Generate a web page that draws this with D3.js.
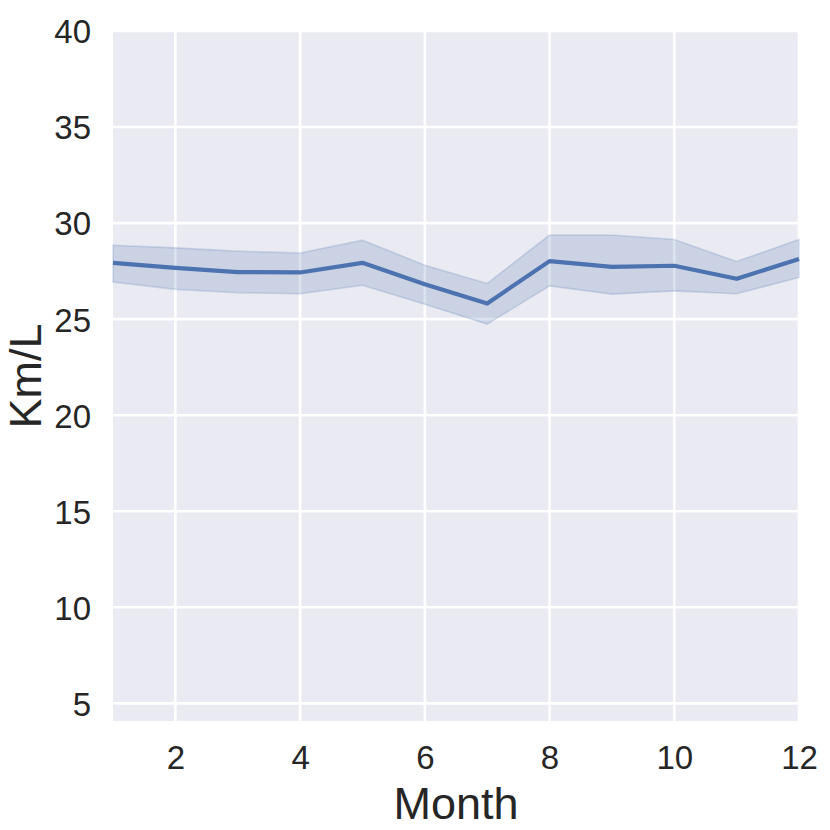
<!DOCTYPE html>
<html>
<head>
<meta charset="utf-8">
<script src="https://cdn.jsdelivr.net/npm/d3@7"></script>
<style>
  html, body { margin: 0; padding: 0; background: #ffffff; }
  svg { display: block; }
</style>
</head>
<body>
<svg id="chart" width="830" height="830"></svg>
<script>
const months = [1, 2, 3, 4, 5, 6, 7, 8, 9, 10, 11, 12];
const meanKmL = [27.93, 27.67, 27.45, 27.43, 27.93, 26.82, 25.82, 28.02, 27.72, 27.78, 27.10, 28.13];
const upperKmL = [28.85, 28.71, 28.54, 28.44, 29.11, 27.81, 26.86, 29.38, 29.38, 29.15, 28.00, 29.15];
const lowerKmL = [26.93, 26.55, 26.37, 26.32, 26.76, 25.78, 24.74, 26.73, 26.30, 26.47, 26.32, 27.17];
const xTicks = [2, 4, 6, 8, 10, 12];
const yTicks = [5, 10, 15, 20, 25, 30, 35, 40];
const xLabel = "Month";
const yLabel = "Km/L";

(function () {
  const data = months.map((m, i) => ({ m, mean: meanKmL[i], hi: upperKmL[i], lo: lowerKmL[i] }));

  const pL = 113, pR = 799, pT = 31, pB = 721;
  const svg = d3.select("#chart");
  const font = "'Liberation Sans', Arial, sans-serif";
  const textColor = "#262626";
  const lineColor = "#4C72B0";

  const x = d3.scaleLinear().domain([1, 12]).range([pL, pR]);
  const y = d3.scaleLinear().domain([4.08, 40]).range([pB, pT]);

  // background
  svg.append("rect")
    .attr("x", pL).attr("y", pT)
    .attr("width", pR - pL).attr("height", pB - pT)
    .attr("fill", "#EAEAF2");

  // grid
  const grid = svg.append("g");
  grid.selectAll("line.gx").data(xTicks).enter().append("line")
    .attr("class", "gx")
    .attr("x1", d => x(d)).attr("x2", d => x(d))
    .attr("y1", pT).attr("y2", pB)
    .attr("stroke", "#ffffff").attr("stroke-width", 2.6);
  grid.selectAll("line.gy").data(yTicks).enter().append("line")
    .attr("class", "gy")
    .attr("x1", pL).attr("x2", pR)
    .attr("y1", d => y(d)).attr("y2", d => y(d))
    .attr("stroke", "#ffffff").attr("stroke-width", 2.6);

  // confidence band
  const area = d3.area().x(d => x(d.m)).y0(d => y(d.lo)).y1(d => y(d.hi));
  svg.append("path").datum(data)
    .attr("d", area)
    .attr("fill", lineColor).attr("fill-opacity", 0.2)
    .attr("stroke", lineColor).attr("stroke-opacity", 0.2).attr("stroke-width", 1.6);

  // mean line
  const line = d3.line().x(d => x(d.m)).y(d => y(d.mean));
  svg.append("path").datum(data)
    .attr("d", line)
    .attr("fill", "none")
    .attr("stroke", lineColor).attr("stroke-width", 4.2)
    .attr("stroke-linejoin", "round").attr("stroke-linecap", "butt");

  // axes (tick labels only)
  const xAxis = d3.axisBottom(x).tickValues(xTicks).tickSize(0).tickPadding(0).tickFormat(d3.format("d"));
  const gx = svg.append("g").attr("transform", `translate(0,${pB})`).call(xAxis);
  gx.select(".domain").remove();
  gx.selectAll("text")
    .attr("y", 48).attr("dy", null)
    .attr("font-family", font).attr("font-size", 33).attr("fill", textColor);

  const yAxis = d3.axisLeft(y).tickValues(yTicks).tickSize(0).tickPadding(0).tickFormat(d3.format("d"));
  const gy = svg.append("g").attr("transform", `translate(${pL},0)`).call(yAxis);
  gy.select(".domain").remove();
  gy.selectAll("text")
    .attr("x", -22).attr("dy", "0.36em")
    .attr("font-family", font).attr("font-size", 33).attr("fill", textColor);

  // axis labels
  svg.append("text")
    .attr("x", (pL + pR) / 2).attr("y", 819)
    .attr("text-anchor", "middle")
    .attr("font-family", font).attr("font-size", 45).attr("fill", textColor)
    .text(xLabel);

  svg.append("text")
    .attr("transform", `translate(41,${(pT + pB) / 2}) rotate(-90)`)
    .attr("text-anchor", "middle")
    .attr("font-family", font).attr("font-size", 45).attr("fill", textColor)
    .text(yLabel);
})();
</script>
</body>
</html>
